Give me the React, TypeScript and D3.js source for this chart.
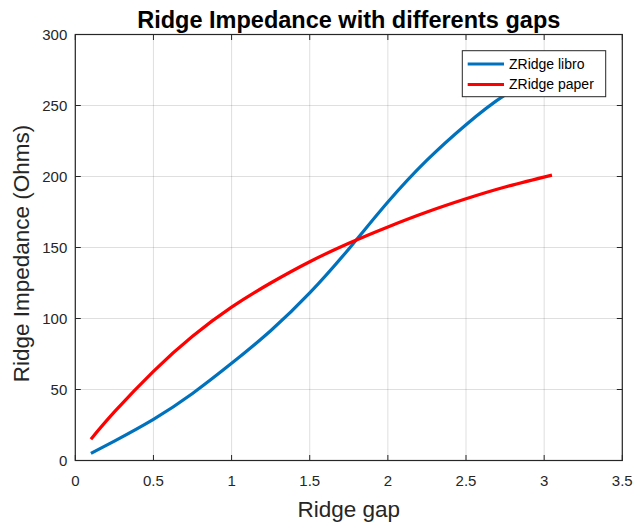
import React from "react";
import { scaleLinear, line, curveNatural } from "d3";

// values
const gaps = [0.1, 0.25, 0.5, 0.75, 1.0, 1.25, 1.5, 1.75, 2.0, 2.25, 2.5, 2.75, 3.05];
const zLibro = [5, 13.7, 29, 47.2, 68.4, 91.4, 118, 149, 182, 211.5, 236.5, 257.5, 276.5];
const zPaper = [15, 34.2, 62.8, 87.5, 108, 125, 140, 153, 164.5, 175, 184.3, 192.6, 201];
const xTicks = [0, 0.5, 1, 1.5, 2, 2.5, 3, 3.5];
const yTicks = [0, 50, 100, 150, 200, 250, 300];
const seriesNames = ["ZRidge libro", "ZRidge paper"];
const seriesColors = ["#0072BD", "#FF0000"];

const App = () => {
  const width = 633;
  const height = 527;
  const margin = { top: 34.5, right: 10.7, bottom: 66.5, left: 75.3 };
  const innerWidth = width - margin.left - margin.right;
  const innerHeight = height - margin.top - margin.bottom;
  const font = "'Liberation Sans', Arial, Helvetica, sans-serif";
  const axisColor = "#262626";

  const xScale = scaleLinear().domain([0, 3.5]).range([0, innerWidth]);
  const yScale = scaleLinear().domain([0, 300]).range([innerHeight, 0]);

  const series = [zLibro, zPaper].map((vals) => gaps.map((g, i) => [g, vals[i]] as [number, number]));
  const path = line<[number, number]>()
    .x((d) => xScale(d[0]))
    .y((d) => yScale(d[1]))
    .curve(curveNatural);

  const tickLen = 5.5;
  const legend = { x: 462.3 - margin.left, y: 50.7 - margin.top, w: 143.4, h: 46 };

  return (
    <svg
      width={width}
      height={height}
      style={{ position: "absolute", left: 0, top: 0, background: "#fff" }}
      fontFamily={font}
    >
      <rect width={width} height={height} fill="#fff" />
      <text x={margin.left + innerWidth / 2} y={28} textAnchor="middle" fontWeight="bold" fontSize={23.5} fill="#000">
        Ridge Impedance with differents gaps
      </text>
      <g transform={`translate(${margin.left},${margin.top})`}>
        {/* grid */}
        {xTicks.map((t) => (
          <line key={"gx" + t} x1={xScale(t)} x2={xScale(t)} y1={0} y2={innerHeight} stroke={axisColor} strokeOpacity={0.15} />
        ))}
        {yTicks.map((t) => (
          <line key={"gy" + t} x1={0} x2={innerWidth} y1={yScale(t)} y2={yScale(t)} stroke={axisColor} strokeOpacity={0.15} />
        ))}

        {/* curves */}
        {series.map((s, i) => (
          <path key={i} d={path(s) || ""} fill="none" stroke={seriesColors[i]} strokeWidth={3.2} />
        ))}

        {/* box + ticks */}
        <rect x={0} y={0} width={innerWidth} height={innerHeight} fill="none" stroke={axisColor} strokeWidth={1.2} />
        {xTicks.map((t) => (
          <g key={"tx" + t}>
            <line x1={xScale(t)} x2={xScale(t)} y1={innerHeight} y2={innerHeight - tickLen} stroke={axisColor} />
            <line x1={xScale(t)} x2={xScale(t)} y1={0} y2={tickLen} stroke={axisColor} />
            <text x={xScale(t)} y={innerHeight + 25} textAnchor="middle" fontSize={15} fill={axisColor}>
              {String(t)}
            </text>
          </g>
        ))}
        {yTicks.map((t) => (
          <g key={"ty" + t}>
            <line x1={0} x2={tickLen} y1={yScale(t)} y2={yScale(t)} stroke={axisColor} />
            <line x1={innerWidth} x2={innerWidth - tickLen} y1={yScale(t)} y2={yScale(t)} stroke={axisColor} />
            <text x={-8} y={yScale(t)} dy="0.35em" textAnchor="end" fontSize={15} fill={axisColor}>
              {String(t)}
            </text>
          </g>
        ))}

        {/* legend */}
        <rect x={legend.x} y={legend.y} width={legend.w} height={legend.h} fill="#fff" stroke={axisColor} strokeWidth={1} />
        {seriesNames.map((name, i) => (
          <g key={name} transform={`translate(${legend.x},${legend.y + 13.3 + i * 20.5})`}>
            <line x1={5.4} x2={41.7} y1={0} y2={0} stroke={seriesColors[i]} strokeWidth={3.2} />
            <text x={46.7} y={0} dy="0.35em" fontSize={14} fill="#000">
              {name}
            </text>
          </g>
        ))}
      </g>

      {/* axis labels */}
      <text x={margin.left + innerWidth / 2} y={517} textAnchor="middle" fontSize={22.5} fill={axisColor}>
        Ridge gap
      </text>
      <text
        transform={`translate(29,${margin.top + innerHeight / 2 + 6}) rotate(-90)`}
        textAnchor="middle"
        fontSize={22.5}
        fill={axisColor}
      >
        Ridge Impedance (Ohms)
      </text>
    </svg>
  );
};

export default App;
